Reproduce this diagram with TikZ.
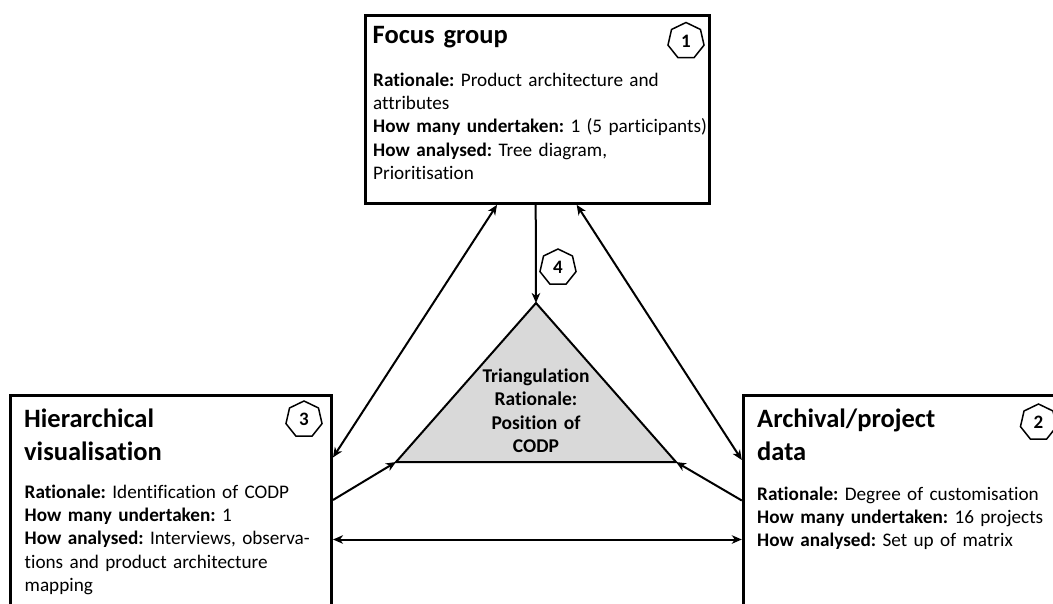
\documentclass[tikz,border=0pt]{standalone}
\usepackage{fontspec}
\setmainfont{Carlito}[Ligatures=NoCommon]
\usetikzlibrary{shapes.geometric,arrows.meta}
\definecolor{trifill}{HTML}{D9D9D9}
\frenchspacing

\tikzset{
  frame/.style={draw, line width=3pt, rectangle, inner sep=0pt},
  heading/.style={font=\fontsize{26.5}{33.5}\selectfont\bfseries, anchor=base west,
    align=left, inner sep=0pt, text width=300pt},
  body/.style={font=\fontsize{19.2}{23.4}\selectfont, anchor=base west,
    align=left, inner sep=0pt, text width=420pt},
  badge/.style={draw, regular polygon, regular polygon sides=7, minimum size=37pt,
    inner sep=0pt, line width=1.5pt, font=\fontsize{19}{19}\selectfont\bfseries},
  link/.style={line width=2pt},
  arrowtip/.tip={Stealth[length=10pt,width=8.5pt,inset=3pt]}
}

\begin{document}
\begin{tikzpicture}[x=1pt,y=-1pt]
\path[use as bounding box, clip] (0,0) rectangle (1053,603);

% the three method boxes
\node[frame, minimum width=344.5pt, minimum height=188.3pt] (focus) at (537.7,109.2) {};
\node[frame, minimum width=321.5pt, minimum height=265pt] (hier) at (170.75,527.5) {};
\node[frame, minimum width=356.7pt, minimum height=265pt] (arch) at (921.65,527.5) {};

% box contents
\node[heading] (focusT) at (372.5,43) {Focus group};
\node[body] (focusB) at (373,86) {\textbf{Rationale:} Product architecture and\\
  attributes\\
  \textbf{How many undertaken:} 1 (5 participants)\\
  \textbf{How analysed:} Tree diagram,\\
  Prioritisation};

\node[heading] (hierT) at (24,427) {Hierarchical\\visualisation};
\node[body] (hierB) at (24.5,498) {\textbf{Rationale:} Identification of CODP\\
  \textbf{How many undertaken:} 1\\
  \textbf{How analysed:} Interviews, observa-\\
  tions and product architecture\\
  mapping};

\node[heading] (archT) at (757,427) {Archival/project\\data};
\node[body] (archB) at (757,500) {\textbf{Rationale:} Degree of customisation\\
  \textbf{How many undertaken:} 16 projects\\
  \textbf{How analysed:} Set up of matrix};

% numbered badges
\node[badge] (b1) at (686,41) {1};
\node[badge] (b2) at (1038.5,422.5) {2};
\node[badge] (b3) at (304,419.5) {3};
\node[badge] (b4) at (558,267.5) {4};

% triangulation triangle
\coordinate (apex) at (536,303);
\coordinate (tl) at (396,462);
\coordinate (tr) at (676,462);
\draw[line width=2pt, fill=trifill] (apex) -- (tl) -- (tr) -- cycle;
\node[font=\fontsize{19.5}{23.5}\selectfont\bfseries, align=center, text width=150pt,
  anchor=base, inner sep=0pt] (tri) at (536,382) {Triangulation\\Rationale:\\Position of\\CODP};

% connectors
\draw[link, -arrowtip] ([xshift=-2pt]focus.south) -- (apex);
\draw[link, arrowtip-arrowtip] ([xshift=-40.7pt]focus.south) -- ([yshift=-64pt]hier.north east);
\draw[link, arrowtip-arrowtip] ([xshift=39pt]focus.south) -- ([yshift=-66.5pt]arch.north west);
\draw[link, -arrowtip] ([yshift=-106.5pt]hier.north east) -- (tl);
\draw[link, -arrowtip] ([yshift=-107pt]arch.north west) -- (tr);
\draw[link, arrowtip-arrowtip] ([yshift=-146pt]hier.north east) -- ([yshift=-146pt]arch.north west);
\end{tikzpicture}
\end{document}
